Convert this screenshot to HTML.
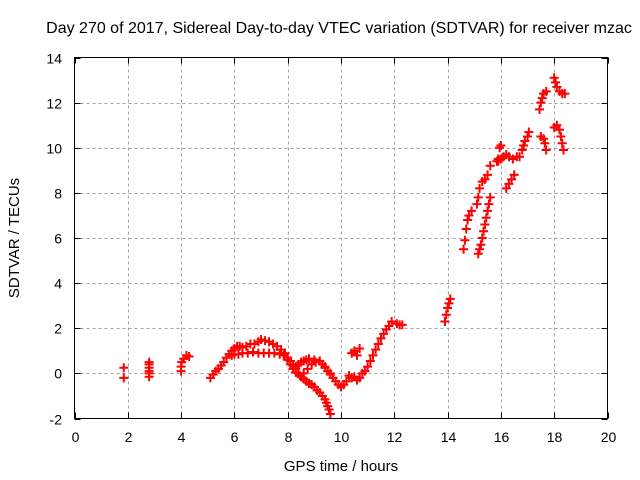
<!DOCTYPE html>
<html><head><meta charset="utf-8"><style>
body{margin:0;background:#fff}
svg{display:block;font-family:"Liberation Sans",sans-serif}
</style></head><body>
<svg id="chart" width="640" height="480">
<text x="339" y="33" font-size="16" text-anchor="middle">Day 270 of 2017, Sidereal Day-to-day VTEC variation (SDTVAR) for receiver mzac</text>
<text x="341" y="471" font-size="15" text-anchor="middle">GPS time / hours</text>
<text transform="translate(19,238) rotate(-90)" font-size="15" text-anchor="middle">SDTVAR / TECUs</text>
<g id="grid"></g><g id="ticks"></g><g id="marks"></g>
<rect x="74.5" y="57.5" width="533" height="361" fill="none" stroke="#000"/>
</svg>
<script>
const xTicks=[0,2,4,6,8,10,12,14,16,18,20];
const yTicks=[-2,0,2,4,6,8,10,12,14];
const hours=[1.85,1.85,2.8,2.8,2.8,2.8,2.8,2.8,4.0,4.0,4.02,4.1,4.2,4.3,
5.1,5.2,5.3,5.4,5.5,5.6,5.7,5.8,5.9,6.0,6.1,6.2,6.3,6.45,6.6,6.75,6.9,7.0,7.15,7.3,7.45,7.6,7.75,7.9,8.0,8.1,8.2,8.3,8.4,8.5,8.6,8.7,8.8,8.9,9.0,9.1,9.2,9.3,9.4,9.45,9.5,9.55,9.6,
5.9,6.0,6.15,6.3,6.5,6.7,6.9,7.1,7.3,7.5,7.7,7.85,8.0,8.1,8.2,8.3,8.45,8.6,8.75,8.9,9.05,9.2,9.3,9.4,9.5,9.6,9.7,9.8,9.9,10.0,10.1,10.2,
8.3,8.4,8.5,8.6,8.7,8.8,9.0,9.2,9.4,9.6,
10.4,10.5,10.6,10.7,10.3,10.4,10.5,10.6,10.7,10.8,
10.9,11.0,11.1,11.2,11.3,11.4,11.5,11.6,11.7,11.8,11.9,12.1,12.2,12.3,
13.9,13.95,14.0,14.05,14.1,
14.6,14.65,14.7,14.75,14.8,14.9,
15.15,15.2,15.25,15.3,15.35,15.4,15.45,15.5,15.55,15.6,
15.1,15.15,15.2,15.3,15.4,15.5,15.6,
15.85,15.9,15.95,16.0,
15.9,16.0,16.1,16.2,16.3,16.45,16.6,
16.2,16.3,16.4,16.5,
16.7,16.8,16.85,16.9,17.0,17.05,
17.5,17.6,17.65,17.7,
17.45,17.5,17.55,17.6,17.7,
18.0,18.05,18.1,18.2,18.3,18.4,
18.0,18.1,18.2,18.25,18.3,18.35];
const sdtvar=[0.25,-0.2,0.5,0.4,0.25,0.1,0,-0.15,0.1,0.3,0.5,0.65,0.8,0.75,
-0.2,-0.05,0.1,0.2,0.35,0.5,0.7,0.85,1.0,1.1,1.2,1.2,1.15,1.2,1.3,1.3,1.4,1.5,1.45,1.4,1.3,1.2,1.05,0.9,0.7,0.55,0.35,0.2,0.0,-0.15,-0.25,-0.35,-0.45,-0.5,-0.6,-0.75,-0.85,-1.0,-1.15,-1.3,-1.45,-1.6,-1.8,
0.8,0.85,0.85,0.9,0.9,0.95,0.9,0.9,0.9,0.9,0.85,0.8,0.6,0.4,0.2,0.05,-0.1,0.0,0.2,0.4,0.5,0.55,0.4,0.25,0.1,-0.05,-0.2,-0.35,-0.5,-0.6,-0.5,-0.35,
0.3,0.4,0.5,0.55,0.6,0.65,0.6,0.55,0.3,0.0,
0.9,1.0,0.8,1.1,-0.1,-0.2,-0.15,-0.3,-0.2,0.0,
0.1,0.3,0.55,0.8,1.05,1.3,1.55,1.75,1.95,2.1,2.3,2.2,2.15,2.15,
2.3,2.6,2.9,3.1,3.3,
5.5,5.9,6.4,6.8,7.0,7.2,
5.3,5.5,5.7,6.0,6.3,6.6,6.9,7.2,7.5,7.8,
7.5,7.8,8.2,8.5,8.6,8.8,9.2,
9.4,9.5,10.0,10.1,
9.4,9.5,9.6,9.7,9.6,9.5,9.6,
8.2,8.4,8.6,8.8,
9.6,9.9,10.1,10.3,10.5,10.7,
10.5,10.4,10.2,9.9,
11.7,12.0,12.2,12.4,12.5,
13.1,12.9,12.7,12.5,12.4,12.4,
10.9,11.0,10.8,10.5,10.2,9.9];
const X0=74.5,X1=607.5,Y0=418.5,Y1=57.5;
const xs=v=>X0+(v-0)/(20-0)*(X1-X0);
const ys=v=>Y0-(v+2)/(14+2)*(Y0-Y1);
const NS="http://www.w3.org/2000/svg";
const grid=document.getElementById('grid'),ticks=document.getElementById('ticks'),marks=document.getElementById('marks');
function mk(t,a,p){const e=document.createElementNS(NS,t);for(const k in a)e.setAttribute(k,a[k]);p.appendChild(e);return e;}
xTicks.forEach(v=>{const x=Math.round(xs(v))+0.5;
 if(v>0&&v<20){const g=mk('line',{x1:x,x2:x,y1:Y1,y2:Y0,stroke:'#a0a0a0','stroke-dasharray':'3,3'},grid);
 
 }
 const t=mk('line',{x1:x,x2:x,y1:Y0,y2:Y0-6,stroke:'#000'},ticks);
 
 
 const t2=mk('line',{x1:x,x2:x,y1:Y1,y2:Y1+6,stroke:'#000'},ticks);
 
 
 const l=mk('text',{x:x,y:442,'font-size':14,'text-anchor':'middle'},ticks);l.textContent=v;
 
 
});
yTicks.forEach(v=>{const y=Math.round(ys(v))+0.5;
 if(v>-2&&v<14){const g=mk('line',{x1:X0,x2:X1,y1:y,y2:y,stroke:'#a0a0a0','stroke-dasharray':'3,3'},grid);
 
 }
 const t=mk('line',{x1:X0,x2:X0+6,y1:y,y2:y,stroke:'#000'},ticks);
 
 
 const t2=mk('line',{x1:X1,x2:X1-6,y1:y,y2:y,stroke:'#000'},ticks);
 
 
 const l=mk('text',{x:62,y:y+5,'font-size':14,'text-anchor':'end'},ticks);l.textContent=v;
 
 
});
hours.forEach((h,i)=>{const x=xs(h),y=ys(sdtvar[i]);
 const p=mk('path',{d:`M${x-4.5},${y}H${x+4.5}M${x},${y-4.5}V${y+4.5}`,stroke:'#f00','stroke-width':2,fill:'none'},marks);
 
 
});
</script>
</body></html>
